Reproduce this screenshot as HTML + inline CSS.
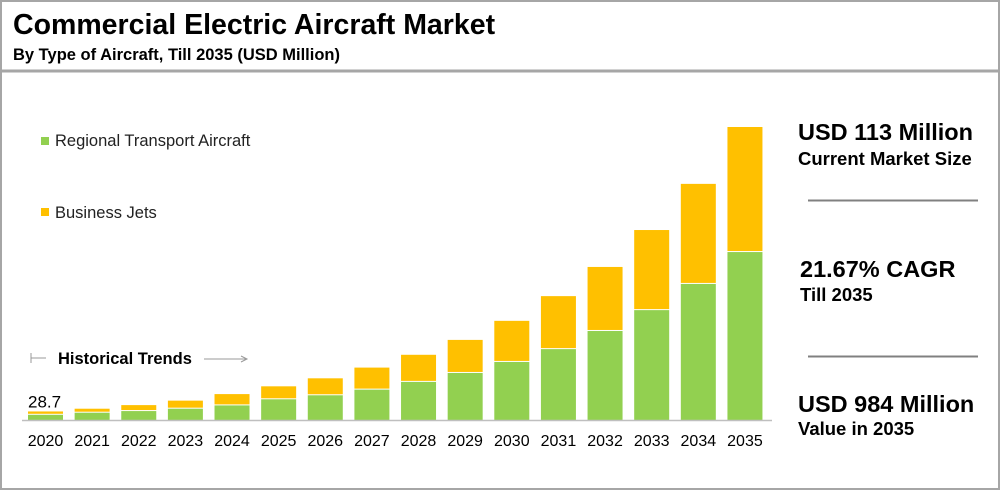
<!DOCTYPE html>
<html><head><meta charset="utf-8"><style>
body{margin:0;background:#fff;font-family:"Liberation Sans",Arial,sans-serif}
#wrap{position:relative;width:1000px;height:490px;overflow:hidden}
</style></head><body>
<div id="wrap">
<svg width="1000" height="490" viewBox="0 0 1000 490" id="svg">
<rect x="1" y="1" width="998" height="488" fill="#fff" stroke="#a6a6a6" stroke-width="2"/>
<line x1="0" y1="71" x2="1000" y2="71" stroke="#a6a6a6" stroke-width="3"/>
<text x="13" y="34" font-size="28.5" font-weight="bold" fill="#000">Commercial Electric Aircraft Market</text>
<text x="13" y="60" font-size="16.5" font-weight="bold" fill="#000">By Type of Aircraft, Till 2035 (USD Million)</text>
<rect x="41" y="137" width="8" height="8" fill="#92d050"/>
<text x="55" y="146" font-size="16.5" fill="#222">Regional Transport Aircraft</text>
<rect x="41" y="208" width="8" height="8" fill="#ffc000"/>
<text x="55" y="218" font-size="16.5" fill="#222">Business Jets</text>
<g>
<line x1="31" y1="353" x2="31" y2="363" stroke="#999"/>
<line x1="31" y1="358" x2="46" y2="358" stroke="#999"/>
<text x="58" y="364" font-size="16.5" font-weight="bold" fill="#000">Historical Trends</text>
<line x1="204" y1="359" x2="246" y2="359" stroke="#999"/>
<path d="M241 356 L247 359 L241 362" fill="none" stroke="#999"/>
</g>
<g id="bars"></g>
<line x1="22" y1="420.5" x2="772" y2="420.5" stroke="#bfbfbf" stroke-width="1.5"/>
<g id="xlabels"></g>
<text x="28" y="407" font-size="17" fill="#000" id="firstval"></text>
<g>
<text x="798" y="140" font-size="23.5" font-weight="bold" fill="#000">USD 113 Million</text>
<text x="798" y="165" font-size="18.5" font-weight="bold" fill="#000">Current Market Size</text>
<line x1="808" y1="200.5" x2="978" y2="200.5" stroke="#808080" stroke-width="2"/>
<text x="800" y="277" font-size="23.5" font-weight="bold" fill="#000">21.67% CAGR</text>
<text x="800" y="301" font-size="18.5" font-weight="bold" fill="#000">Till 2035</text>
<line x1="808" y1="356.5" x2="978" y2="356.5" stroke="#808080" stroke-width="2"/>
<text x="798" y="412" font-size="23.5" font-weight="bold" fill="#000">USD 984 Million</text>
<text x="798" y="435" font-size="18.5" font-weight="bold" fill="#000">Value in 2035</text>
</g>
</svg>
</div>
<script>
const years=["2020","2021","2022","2023","2024","2025","2026","2027","2028","2029","2030","2031","2032","2033","2034","2035"];
const regional=[17.5,24.5,30,38,49,69.5,83,102,128,158,195,238,299,369,457,564];
const business=[11.2,13.4,20,27,38,43.6,57,74,91,111,138,178,215,269,336,420];
const firstLabel="28.7";
const NS="http://www.w3.org/2000/svg";
const baseY=420, scale=293/984, x0=45.5, step=46.63, bw=35;
function xPos(i){return x0+i*step;}
function yLen(v){return v*scale;}
const bars=document.getElementById('bars'), xl=document.getElementById('xlabels');
years.forEach((yr,i)=>{
  const cx=xPos(i);
  const gh=yLen(regional[i]), bh=yLen(business[i]);
  const g=document.createElementNS(NS,'rect');
  g.setAttribute('x',cx-bw/2);g.setAttribute('y',baseY-gh);g.setAttribute('width',bw);g.setAttribute('height',gh);
  g.setAttribute('fill','#92d050');
  
  
  bars.appendChild(g);
  const b=document.createElementNS(NS,'rect');
  b.setAttribute('x',cx-bw/2);b.setAttribute('y',baseY-gh-bh);b.setAttribute('width',bw);b.setAttribute('height',Math.max(bh-1,0.5));
  b.setAttribute('fill','#ffc000');
  
  
  bars.appendChild(b);
  const t=document.createElementNS(NS,'text');
  t.setAttribute('x',cx);t.setAttribute('y',446);t.setAttribute('text-anchor','middle');
  t.setAttribute('font-size','16');t.setAttribute('fill','#000');
  t.textContent=yr;
  
  
  xl.appendChild(t);
});
const fv=document.getElementById('firstval');
fv.textContent=firstLabel;
fv.setAttribute('y',baseY-yLen(regional[0]+business[0])-4);
</script>
</body></html>
